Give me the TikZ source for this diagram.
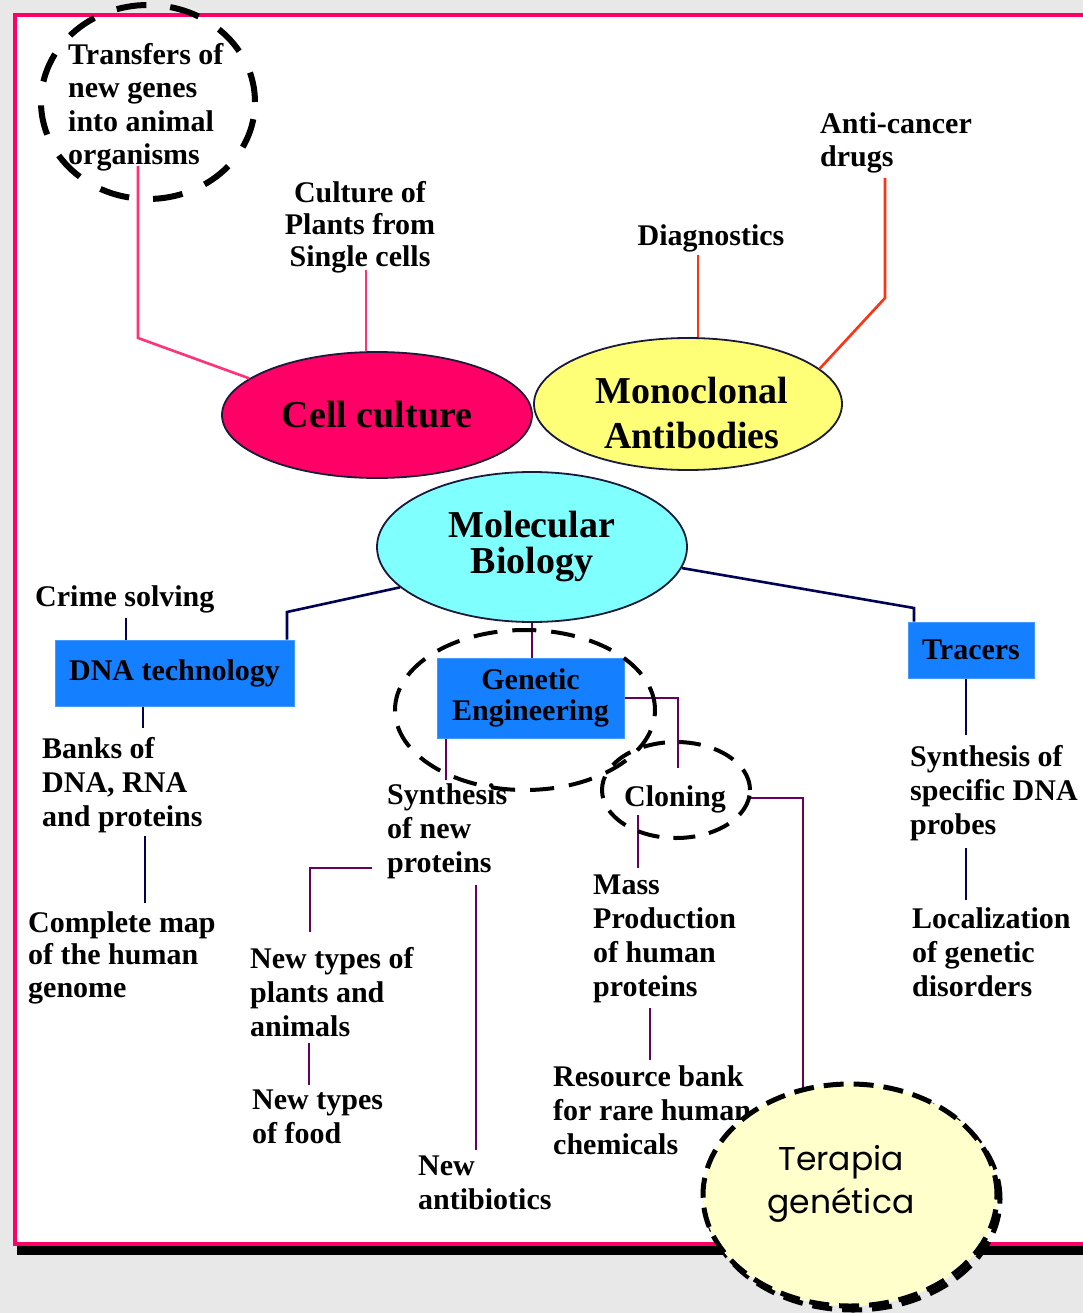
\documentclass[tikz,border=0pt]{standalone}
\usepackage{fontspec}
\setmainfont{Liberation Serif}
\newfontfamily\comicfont{Poppins}
\usetikzlibrary{shapes.geometric}
\definecolor{bggray}{HTML}{E8E8E8}
\definecolor{panelpink}{HTML}{FF0066}
\definecolor{ccpink}{HTML}{FF0066}
\definecolor{monoyel}{HTML}{FFFF77}
\definecolor{molcyan}{HTML}{80FFFF}
\definecolor{boxblue}{HTML}{1480FF}
\definecolor{pinkln}{HTML}{FF3377}
\definecolor{orangeln}{HTML}{FF3311}
\definecolor{navyln}{HTML}{000055}
\definecolor{purpln}{HTML}{66005E}
\definecolor{tgfill}{HTML}{FFFFCC}
\definecolor{ellline}{HTML}{1A1A3A}
\begin{document}
\begin{tikzpicture}[x=1pt,y=-1pt,
 txt/.style={font=\bfseries\fontsize{30}{34}\selectfont, align=left, inner sep=0pt, anchor=north west},
 ctxt/.style={txt, align=center, anchor=north},
 ln/.style={line width=2.6pt},
 bigell/.style={ellipse, draw=ellline, line width=1.8pt, inner sep=0pt, font=\bfseries\fontsize{38}{45}\selectfont, align=center},
 bluebox/.style={rectangle, fill=boxblue, draw=boxblue!80!white, line width=1pt, inner sep=0pt, font=\bfseries\fontsize{30}{31}\selectfont, align=center},
 dashring/.style={ellipse, draw=black, dash pattern=on 24pt off 15pt, line width=4pt, inner sep=0pt}]
\useasboundingbox (0,0) rectangle (1083,1313);
% background and panel
\fill[bggray] (0,0) rectangle (1083,1313);
\fill[black] (17,1244) rectangle (1090,1255);
\fill[white] (15,15) rectangle (1090,1244);
\draw[panelpink, line width=4pt] (1095,15) -- (15,15) -- (15,1244) -- (1095,1244);
% main ellipses
\node[bigell, fill=ccpink, minimum width=310pt, minimum height=126pt] (cc) at (377,415) {Cell culture};
\node[bigell, fill=monoyel, minimum width=308pt, minimum height=132pt] (mab) at (688,404) {};
\node[font=\bfseries\fontsize{38}{45}\selectfont, align=center, inner sep=0pt] (mabl) at (692,413) {Monoclonal\\Antibodies};
\node[bigell, fill=molcyan, minimum width=310pt, minimum height=150pt, font=\bfseries\fontsize{38}{36}\selectfont] (mb) at (532,547) {Molecular\\Biology};
% boxes
\node[bluebox, minimum width=239pt, minimum height=66pt] (dna) at (174.5,673) {DNA technology};
\node[bluebox, minimum width=187pt, minimum height=80pt] (ge) at (530.5,698) {Genetic\\Engineering};
\node[bluebox, minimum width=126pt, minimum height=56pt] (trc) at (971,650) {Tracers};
% texts
\node[txt, font=\bfseries\fontsize{30}{33.5}\selectfont] (transf) at (68,43) {Transfers of\\new genes\\into animal\\organisms};
\node[ctxt, font=\bfseries\fontsize{30}{32}\selectfont] (culture) at (360,181) {Culture of\\Plants from\\Single cells};
\node[txt, anchor=north] (diag) at (711,224) {Diagnostics};
\node[txt, font=\bfseries\fontsize{30}{33}\selectfont] (anti) at (820,112) {Anti-cancer\\drugs};
\node[txt] (crime) at (35,585) {Crime solving};
\node[txt] (banks) at (42,737) {Banks of\\DNA, RNA\\and proteins};
\node[txt, font=\bfseries\fontsize{30}{32.5}\selectfont] (cmap) at (28,911) {Complete map\\of the human\\genome};
\node[txt] (sprobe) at (910,745) {Synthesis of\\specific DNA\\probes};
\node[txt] (local) at (912,907) {Localization\\of genetic\\disorders};
\node[txt] (synth) at (387,783) {Synthesis\\of new\\proteins};
\node[txt] (clon) at (624,785) {Cloning};
\node[txt] (mass) at (593,875) {Mass\\Production\\of human\\proteins};
\node[txt] (res) at (553,1065) {Resource bank\\for rare human\\chemicals};
\node[txt] (ntpa) at (250,947) {New types of\\plants and\\animals};
\node[txt] (food) at (252,1090) {New types\\of food};
\node[txt] (antib) at (418,1156) {New\\antibiotics};
% connectors: cell culture
\coordinate (tf1) at (138,166);
\coordinate (tf2) at (138,338);
\draw[ln, pinkln] (tf1) -- (tf2) -- (cc.164);
\coordinate (cu1) at (366,270);
\draw[ln, pinkln] (cu1) -- (cu1 |- cc.north);
% monoclonal
\coordinate (dg1) at (698,255);
\draw[ln, orangeln] (dg1) -- (dg1 |- mab.north);
\coordinate (ac1) at (885,178);
\coordinate (ac2) at (885,298);
\draw[ln, orangeln] (ac1) -- (ac2) -- (mab.15);
% molecular biology
\coordinate (dn1) at (287,612);
\draw[ln, navyln] (dna.north -| dn1) -- (dn1) -- (mb.197);
\coordinate (cs1) at (126,618);
\draw[ln, navyln] (cs1) -- (cs1 |- dna.north);
\coordinate (bk1) at (143,728);
\draw[ln, navyln] (bk1 |- dna.south) -- (bk1);
\coordinate (bk2) at (145,836);
\coordinate (bk3) at (145,903);
\draw[ln, navyln] (bk2) -- (bk3);
\coordinate (tr1) at (914,608);
\draw[ln, navyln] (mb.352) -- (tr1) -- (tr1 |- trc.north);
\coordinate (tr2) at (966,735);
\draw[ln, navyln] (tr2 |- trc.south) -- (tr2);
\coordinate (sp1) at (966,848);
\coordinate (sp2) at (966,900);
\draw[ln, navyln] (sp1) -- (sp2);
% genetic engineering
\draw[ln, purpln] (mb.south) -- (mb.south |- ge.north);
\coordinate (ge1) at (678,768);
\draw[ln, purpln] (ge.east) -| (ge1);
\coordinate (ge2) at (446,780);
\draw[ln, purpln] (ge2 |- ge.south) -- (ge2);
\coordinate (cl1) at (748,798);
\coordinate (cl2) at (803,1100);
\draw[ln, purpln] (cl1) -| (cl2);
\coordinate (cl3) at (638,815);
\coordinate (cl4) at (638,868);
\draw[ln, purpln] (cl3) -- (cl4);
\coordinate (ms1) at (650,1008);
\coordinate (ms2) at (650,1060);
\draw[ln, purpln] (ms1) -- (ms2);
\coordinate (sy1) at (372,868);
\coordinate (sy2) at (310,932);
\draw[ln, purpln] (sy1) -| (sy2);
\coordinate (sy3) at (476,885);
\coordinate (sy4) at (476,1150);
\draw[ln, purpln] (sy3) -- (sy4);
\coordinate (nt1) at (309,1043);
\coordinate (nt2) at (309,1085);
\draw[ln, purpln] (nt1) -- (nt2);
% dashed rings
\node[dashring, line width=6pt, dash pattern=on 30pt off 24pt, minimum width=214pt, minimum height=194pt] (ring1) at (148,102) {};
\node[dashring, minimum width=260pt, minimum height=160pt] (ring2) at (525,710) {};
\node[dashring, dash pattern=on 22pt off 14pt, minimum width=148pt, minimum height=96pt] (ring3) at (676,790) {};
% terapia genetica
\draw[black, line width=5pt, dash pattern=on 20pt off 10pt] (853,1199) ellipse [x radius=147pt, y radius=111pt];
\node[ellipse, fill=tgfill, draw=black, line width=5pt, dash pattern=on 20pt off 10pt, minimum width=294pt, minimum height=222pt, inner sep=0pt] (tg) at (850,1195) {};
\node[font=\comicfont\fontsize{33}{43}\selectfont, align=center, inner sep=0pt] (tgl) at (841,1184) {Terapia\\genética};
\end{tikzpicture}
\end{document}
